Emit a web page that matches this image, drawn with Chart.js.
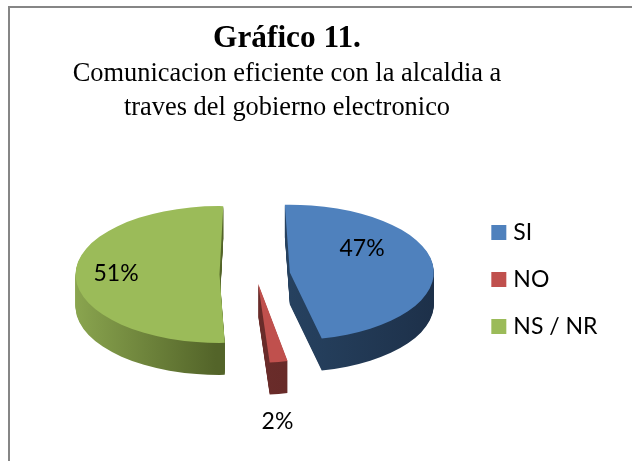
<!DOCTYPE html>
<html>
<head>
<meta charset="utf-8">
<script src="https://cdn.jsdelivr.net/npm/chart.js@4"></script>
<style>
  html, body { margin: 0; padding: 0; background: #fff; overflow: hidden; }
  #frame { position: absolute; left: 8px; top: 6px; width: 640px; height: 470px; border: 2px solid #868686; }
  #wrap { position: absolute; left: 0; top: 0; width: 632px; height: 461px; }
</style>
</head>
<body>
<div id="frame"></div>
<div id="wrap"><canvas id="chart" width="632" height="461"></canvas></div>
<script>
  const categories = ['SI', 'NO', 'NS / NR'];
  const values = [47, 2, 51];
  const valueLabels = ['47%', '2%', '51%'];
  const titleText = 'Gráfico 11.';
  const subtitleLines = ['Comunicacion eficiente con la alcaldia a', 'traves del gobierno electronico'];

  // ---- 3D look ------------------------------------------------------
  const topColors = ['#4f81bd', '#c0504d', '#9bbb59'];
  const sideColors = [
    ['#26415f', '#1d3049'],
    ['#6a2c2a', '#5e2624'],
    ['#8aa54f', '#536429'],
  ];
  const PIE_X = 255.5;
  const PIE_Y = 274;
  const PIE_RADIUS = 144;
  const FLATTEN = 0.46;
  const DEPTH = 32;
  // per slice: how far it is pulled out, its flattening and a small turn (deg).
  // The original is drawn in perspective, so the front slice comes out longer.
  const sliceExplode = [34.5, 21, 36];
  const sliceFlatten = [0.47, 0.55, 0.475];
  const sliceTurn = [-2, -1, 1.5];
  // label distance from the pie centre along the slice's mid angle, then a nudge
  const labelReach = [107, 327, 139.5];
  const labelNudge = [[0, -21], [-19, -2], [0, -2]];

  function placeSlice(ctx, el, i, drop) {
    const mid = (el.startAngle + el.endAngle) / 2;
    ctx.translate(PIE_X + Math.cos(mid) * sliceExplode[i],
                  PIE_Y + Math.sin(mid) * sliceExplode[i] * FLATTEN + drop);
    ctx.scale(1, sliceFlatten[i]);
    ctx.rotate(sliceTurn[i] * Math.PI / 180);
    ctx.translate(-el.x, -el.y);
  }

  const pie3d = {
    id: 'pie3d',
    // takes over the dataset draw, the arcs themselves stay the library's
    beforeDatasetDraw(chart, args) {
      const ctx = chart.ctx;
      const arcs = args.meta.data;
      for (let d = DEPTH; d >= 1; d--) {
        arcs.forEach((el, i) => {
          ctx.save();
          placeSlice(ctx, el, i, d);
          const g = ctx.createLinearGradient(el.x - PIE_RADIUS, 0, el.x + PIE_RADIUS, 0);
          // green runs over its left half, blue over its right half
          if (i === 2) { g.addColorStop(0, sideColors[i][0]); g.addColorStop(0.5, sideColors[i][1]); }
          else { g.addColorStop(0.5, sideColors[i][0]); g.addColorStop(1, sideColors[i][1]); }
          const side = Object.create(el);
          side.options = Object.assign({}, el.options, { backgroundColor: g });
          side.draw(ctx);
          ctx.restore();
        });
      }
      arcs.forEach((el, i) => {
        ctx.save();
        placeSlice(ctx, el, i, 0);
        el.draw(ctx);
        ctx.restore();
      });

      ctx.save();
      ctx.font = '23px Lato';
      ctx.fillStyle = '#000';
      ctx.textAlign = 'center';
      ctx.textBaseline = 'middle';
      arcs.forEach((el, i) => {
        const mid = (el.startAngle + el.endAngle) / 2;
        const x = PIE_X + Math.cos(mid) * labelReach[i];
        const y = PIE_Y + Math.sin(mid) * labelReach[i] * FLATTEN;
        ctx.fillText(valueLabels[i], x + labelNudge[i][0], y + labelNudge[i][1]);
      });
      ctx.restore();
      return false;
    },
  };

  new Chart(document.getElementById('chart'), {
    type: 'pie',
    plugins: [pie3d],
    data: {
      labels: categories,
      datasets: [{
        data: values,
        backgroundColor: topColors,
        borderWidth: 0,
        clip: false,
      }],
    },
    options: {
      responsive: false,
      animation: false,
      events: [],
      radius: PIE_RADIUS,
      // negative left side: the title block is centred left of the canvas middle
      layout: { padding: { left: -33.5, right: 24.5, top: 20, bottom: 34 } },
      plugins: {
        tooltip: { enabled: false },
        title: {
          display: true,
          text: titleText,
          color: '#000',
          font: { family: 'Liberation Serif', size: 31.3, weight: 'bold' },
          padding: { top: 0, bottom: 0 },
        },
        subtitle: {
          display: true,
          text: subtitleLines,
          color: '#000',
          font: { family: 'Liberation Serif', size: 26.4, weight: 'normal', lineHeight: 1.27 },
          padding: { top: 0, bottom: 7.6 },
        },
        legend: {
          position: 'right',
          fullSize: false,
          labels: {
            color: '#000',
            font: { family: 'Lato', size: 23 },
            usePointStyle: true,
            pointStyle: 'rect',
            boxWidth: 6,
            boxHeight: 15,
            padding: 24,
          },
        },
      },
    },
  });
</script>
</body>
</html>
